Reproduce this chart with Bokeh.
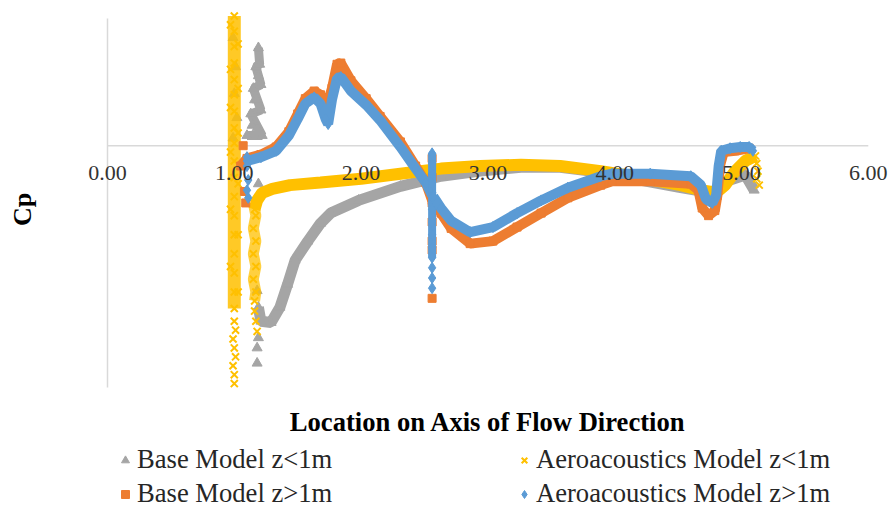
import math
from bokeh.plotting import figure
from bokeh.models import Range1d, Legend, LegendItem, Label
from bokeh.core.properties import value
from bokeh.embed import file_html
from bokeh.resources import INLINE

# ---------------- data ----------------
x_ticks = [0, 1, 2, 3, 4, 5, 6]
x_tick_labels = ["0.00", "1.00", "2.00", "3.00", "4.00", "5.00", "6.00"]
cp_axis_min, cp_axis_max = -1.9, 1.0

# Base Model z<1m (grey triangles)
base_lo_spike_x = [1.10, 1.22, 1.13, 1.21, 1.15, 1.21, 1.17, 1.20, 1.19]
base_lo_spike_y = [0.08, 0.08, 0.25, 0.28, 0.45, 0.48, 0.62, 0.64, 0.77]
base_lo_pts_x = [0.99, 1.01, 1.00, 1.02, 0.99, 1.14, 1.18, 1.16, 1.18, 1.19,
                 1.19, 1.18, 1.19, 1.18, 1.18]
base_lo_pts_y = [0.85, 0.62, 0.41, 0.22, 0.06, 0.16, 0.14, 0.36, 0.36, 0.55,
                 -0.30, -1.14, -1.51, -1.59, -1.71]
base_lo_x = [1.19, 1.21, 1.29, 1.36, 1.42, 1.48, 1.58, 1.68, 1.76, 1.98, 2.31, 2.63,
             2.94, 3.26, 3.57, 3.89, 4.20, 4.52, 4.76, 4.91, 5.03, 5.10]
base_lo_y = [-1.27, -1.38, -1.39, -1.27, -1.09, -0.90, -0.75, -0.61, -0.53, -0.43, -0.32, -0.24,
             -0.20, -0.17, -0.17, -0.21, -0.27, -0.33, -0.37, -0.27, -0.23, -0.35]

# Aeroacoustics Model z<1m (yellow crosses)
aero_lo_colA_x = [1.00, 1.00, 1.00, 1.00, 1.00, 1.00, 1.00, 1.00, 1.00, 1.00, 1.00, 1.00,
                  1.00, 1.00, 1.00, 1.00, 1.00, 1.00]
aero_lo_colA_y = [1.02, 0.90, 0.78, 0.65, 0.52, 0.40, 0.27, 0.14, 0.02, -0.12, -0.25, -0.40,
                  -0.55, -0.70, -0.85, -1.00, -1.15, -1.28]
aero_lo_pts_x = [0.97, 1.03, 0.97, 1.03, 0.97, 1.03, 0.97, 1.03, 0.97, 1.03, 0.97, 1.03,
                 1.00, 1.01, 0.99, 1.00, 1.01, 0.99, 1.00, 1.00, 1.16, 1.17, 1.18]
aero_lo_pts_y = [0.95, 0.80, 0.60, 0.45, 0.30, 0.10, -0.05, -0.30, -0.50, -0.70, -0.95, -1.15,
                 -1.38, -1.45, -1.52, -1.59, -1.66, -1.73, -1.80, -1.87, -1.30, -1.38, -1.46]
aero_lo_colB_x = [1.15, 1.17, 1.15, 1.17, 1.15, 1.17, 1.15, 1.17, 1.16]
aero_lo_colB_y = [-0.45, -0.55, -0.65, -0.75, -0.85, -0.95, -1.05, -1.15, -1.22]
aero_lo_x = [1.16, 1.18, 1.22, 1.30, 1.44, 1.68, 2.00, 2.31, 2.63, 2.94, 3.26, 3.57,
             3.89, 4.20, 4.52, 4.68, 4.80, 4.87, 4.95, 5.03, 5.11]
aero_lo_y = [-0.50, -0.43, -0.37, -0.34, -0.31, -0.29, -0.26, -0.22, -0.18, -0.16, -0.15, -0.16,
             -0.20, -0.25, -0.31, -0.35, -0.37, -0.31, -0.20, -0.12, -0.08]
aero_lo_end_x = [5.12, 5.13, 5.12, 5.14]
aero_lo_end_y = [-0.14, -0.20, -0.26, -0.31]

# Base Model z>1m (orange squares)
base_hi_a_x = [1.05, 1.10, 1.21, 1.33, 1.43, 1.50, 1.56, 1.63, 1.68, 1.73, 1.77, 1.81,
               1.84, 1.92, 2.04, 2.15, 2.31, 2.43, 2.51, 2.56]
base_hi_a_y = [-0.16, -0.10, -0.07, -0.01, 0.11, 0.25, 0.37, 0.43, 0.40, 0.32, 0.45, 0.64,
               0.65, 0.51, 0.37, 0.23, 0.03, -0.16, -0.29, -0.43]
base_hi_pts_x = [1.07, 1.08, 1.09, 2.56, 2.56, 2.56, 2.56, 2.56, 2.56, 2.56]
base_hi_pts_y = [0.00, -0.36, -0.45, -0.10, -0.25, -0.45, -0.60, -0.75, -0.82, -1.20]
base_hi_b_x = [2.57, 2.63, 2.71, 2.86, 3.04, 3.23, 3.42, 3.63, 3.89, 3.98, 4.28, 4.60,
               4.66, 4.69, 4.74, 4.79, 4.81, 4.83, 4.86, 4.95, 5.06]
base_hi_b_y = [-0.45, -0.53, -0.65, -0.77, -0.75, -0.64, -0.53, -0.41, -0.31, -0.28, -0.28, -0.30,
               -0.35, -0.49, -0.55, -0.51, -0.39, -0.16, -0.05, -0.04, -0.02]

# Aeroacoustics Model z>1m (blue diamonds)
aero_hi_a_x = [1.10, 1.21, 1.33, 1.43, 1.50, 1.56, 1.63, 1.68, 1.72, 1.74, 1.77, 1.81,
               1.84, 1.92, 2.04, 2.15, 2.31, 2.43, 2.51, 2.56]
aero_hi_a_y = [-0.12, -0.09, -0.04, 0.08, 0.21, 0.33, 0.38, 0.33, 0.21, 0.17, 0.36, 0.53,
               0.54, 0.43, 0.32, 0.20, -0.01, -0.18, -0.29, -0.39]
aero_hi_col_x = [2.56, 2.56, 2.56, 2.56, 2.56, 2.56, 2.56, 2.56, 2.56, 2.56]
aero_hi_col_y = [-0.06, -0.14, -0.22, -0.30, -0.40, -0.50, -0.60, -0.70, -0.80, -0.88]
aero_hi_pts_x = [1.10, 1.10, 1.11, 1.10, 1.11, 2.56, 2.56, 2.56]
aero_hi_pts_y = [-0.09, -0.16, -0.27, -0.35, -0.41, -0.96, -1.04, -1.12]
aero_hi_b_x = [2.57, 2.63, 2.71, 2.86, 3.04, 3.23, 3.42, 3.63, 3.89, 3.98, 4.28, 4.60,
               4.68, 4.72, 4.77, 4.80, 4.82, 4.84, 4.91, 4.99, 5.06, 5.09]
aero_hi_b_y = [-0.40, -0.49, -0.59, -0.68, -0.64, -0.53, -0.43, -0.33, -0.24, -0.22, -0.22, -0.24,
               -0.31, -0.42, -0.45, -0.39, -0.16, -0.04, -0.02, -0.01, -0.01, -0.04]

# ---------------- styling ----------------
GREY = "#A5A5A5"
ORANGE = "#ED7D31"
YELLOW = "#FFC000"
BLUE = "#5B9BD5"
AXIS = "#D9D9D9"
FONT = "Liberation Serif"

W, H = 892, 510
PX_X, PX_Y = 126.8, 127.2      # pixels per data unit
X0_PX, Y0_PX = 107.0, 145.2     # pixel position of (0, 0)

p = figure(width=W, height=H,
           x_range=Range1d(-X0_PX / PX_X, (W - X0_PX) / PX_X),
           y_range=Range1d((Y0_PX - H) / PX_Y, Y0_PX / PX_Y),
           output_backend="svg", toolbar_location=None, min_border=0)
p.grid.visible = False
p.xaxis.visible = False
p.yaxis.visible = False
p.outline_line_color = None
p.background_fill_color = "white"
p.border_fill_color = "white"

# axis lines: horizontal at Cp = 0 and vertical at x = 0
p.line([x_ticks[0], x_ticks[-1]], [0, 0], line_color=AXIS, line_width=1.5)
p.line([x_ticks[0], x_ticks[0]], [cp_axis_min, cp_axis_max], line_color=AXIS, line_width=1.5)

# grey: Base Model z<1m
p.line(base_lo_x, base_lo_y, line_color=GREY, line_width=11)
p.line(base_lo_spike_x, base_lo_spike_y, line_color=GREY, line_width=9)
r_grey = p.scatter(base_lo_x + base_lo_spike_x + base_lo_pts_x,
                   base_lo_y + base_lo_spike_y + base_lo_pts_y, marker="triangle",
                   size=10, fill_color=GREY, line_color=GREY)

# yellow: Aeroacoustics Model z<1m
p.line(aero_lo_colA_x, aero_lo_colA_y, line_color=YELLOW, line_width=13, line_alpha=0.85)
p.line(aero_lo_colB_x, aero_lo_colB_y, line_color=YELLOW, line_width=11, line_alpha=0.75)
p.line(aero_lo_x, aero_lo_y, line_color=YELLOW, line_width=12)
r_yellow = p.scatter(aero_lo_colA_x + aero_lo_pts_x + aero_lo_colB_x + aero_lo_x + aero_lo_end_x,
                     aero_lo_colA_y + aero_lo_pts_y + aero_lo_colB_y + aero_lo_y + aero_lo_end_y,
                     marker="x", size=10, line_color=YELLOW, line_width=2)

# orange: Base Model z>1m
p.line(base_hi_a_x, base_hi_a_y, line_color=ORANGE, line_width=10)
p.line(base_hi_b_x, base_hi_b_y, line_color=ORANGE, line_width=10)
r_orange = p.scatter(base_hi_a_x + base_hi_pts_x + base_hi_b_x, base_hi_a_y + base_hi_pts_y + base_hi_b_y,
                     marker="square", size=8, fill_color=ORANGE, line_color=ORANGE)

# blue: Aeroacoustics Model z>1m
p.line(aero_hi_a_x, aero_hi_a_y, line_color=BLUE, line_width=10)
p.line(aero_hi_col_x, aero_hi_col_y, line_color=BLUE, line_width=8)
p.line(aero_hi_b_x, aero_hi_b_y, line_color=BLUE, line_width=10)
r_blue = p.scatter(aero_hi_a_x + aero_hi_col_x + aero_hi_pts_x + aero_hi_b_x,
                   aero_hi_a_y + aero_hi_col_y + aero_hi_pts_y + aero_hi_b_y,
                   marker="diamond", size=11, fill_color=BLUE, line_color=BLUE)

# tick labels under the Cp = 0 line
p.text(x=x_ticks, y=[0] * len(x_ticks), text=x_tick_labels, text_font=value(FONT),
       text_font_size=value("22px"), text_color="#333333", text_align="center",
       text_baseline="middle", y_offset=27)

# axis titles
p.add_layout(Label(x=(22 - X0_PX) / PX_X, y=(Y0_PX - 209) / PX_Y, text="Cp", angle=math.pi / 2,
                   text_font=FONT, text_font_size="26px", text_font_style="bold",
                   text_color="#000000", text_align="center", text_baseline="middle"))
p.add_layout(Label(x=(x_ticks[0] + x_ticks[-1]) / 2, y=(Y0_PX - 421) / PX_Y,
                   text="Location on Axis of Flow Direction",
                   text_font=FONT, text_font_size="26.6px", text_font_style="bold",
                   text_color="#000000", text_align="center", text_baseline="middle"))

legend = Legend(items=[LegendItem(label="Base Model z<1m", renderers=[r_grey]),
                       LegendItem(label="Aeroacoustics Model z<1m", renderers=[r_yellow]),
                       LegendItem(label="Base Model z>1m", renderers=[r_orange]),
                       LegendItem(label="Aeroacoustics Model z>1m", renderers=[r_blue])],
                orientation="horizontal", ncols=2, location=(115, 1),
                label_text_font=FONT, label_text_font_size="26.6px", label_text_color="#262626",
                glyph_width=20, glyph_height=20, label_standoff=2, label_width=374,
                label_height=29, spacing=3, padding=2, margin=0,
                border_line_color=None, background_fill_alpha=0)
p.add_layout(legend, "center")

open("out.html", "w").write(file_html(p, INLINE))
